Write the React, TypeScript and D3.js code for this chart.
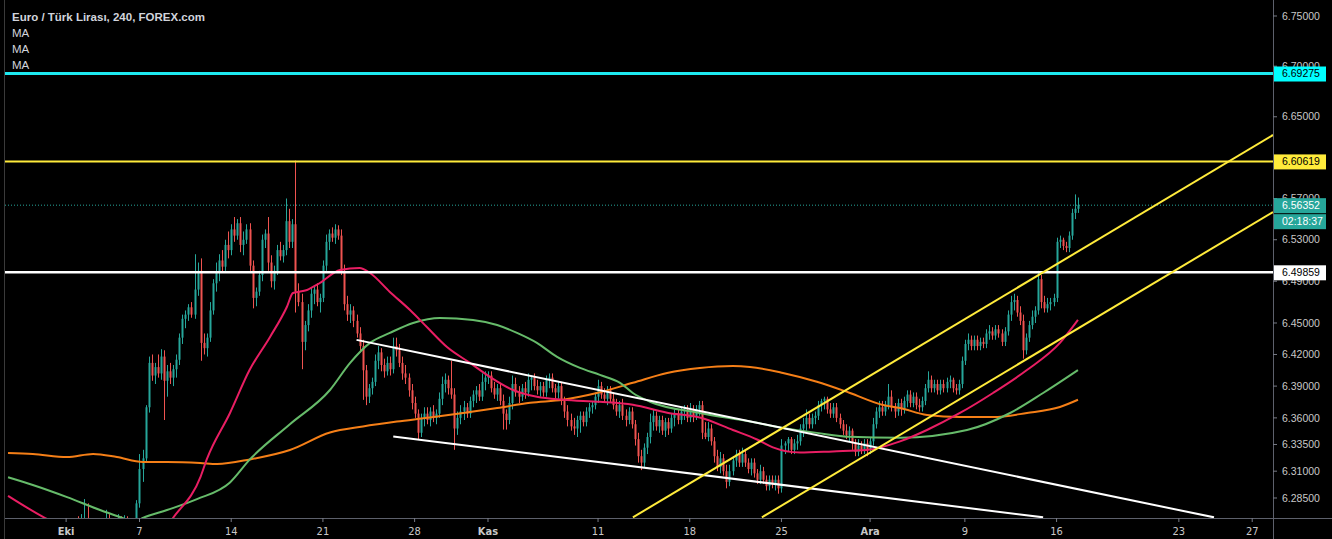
import React, { useEffect, useRef } from 'react';
import * as d3 from 'd3';

const W = 1332;
const H = 539;

// 4h bars: [open, high, low, close]
const bars: [number, number, number, number][] = [
  [6.262, 6.266, 6.250, 6.254], [6.254, 6.260, 6.246, 6.250], [6.250, 6.256, 6.240, 6.244], [6.244, 6.252, 6.238, 6.248],
  [6.248, 6.254, 6.236, 6.240], [6.240, 6.246, 6.228, 6.232], [6.232, 6.240, 6.226, 6.236], [6.236, 6.242, 6.228, 6.230],
  [6.230, 6.236, 6.222, 6.226], [6.226, 6.234, 6.220, 6.230], [6.230, 6.238, 6.224, 6.234], [6.234, 6.240, 6.226, 6.228],
  [6.228, 6.236, 6.220, 6.232], [6.232, 6.244, 6.228, 6.240], [6.240, 6.250, 6.234, 6.246], [6.246, 6.254, 6.238, 6.242],
  [6.242, 6.250, 6.236, 6.248], [6.248, 6.258, 6.242, 6.254], [6.254, 6.262, 6.246, 6.250], [6.250, 6.258, 6.240, 6.244],
  [6.244, 6.256, 6.238, 6.252], [6.252, 6.262, 6.246, 6.258], [6.258, 6.266, 6.250, 6.262], [6.262, 6.268, 6.252, 6.256],
  [6.256, 6.270, 6.250, 6.264], [6.264, 6.284, 6.258, 6.266], [6.266, 6.280, 6.252, 6.256], [6.256, 6.264, 6.246, 6.250],
  [6.250, 6.258, 6.242, 6.254], [6.254, 6.262, 6.246, 6.250], [6.250, 6.260, 6.244, 6.256], [6.256, 6.266, 6.250, 6.262],
  [6.262, 6.274, 6.256, 6.266], [6.266, 6.270, 6.252, 6.256], [6.256, 6.262, 6.244, 6.250], [6.250, 6.258, 6.242, 6.254],
  [6.254, 6.270, 6.250, 6.262], [6.262, 6.268, 6.252, 6.256], [6.256, 6.269, 6.250, 6.264], [6.264, 6.268, 6.250, 6.254],
  [6.254, 6.260, 6.246, 6.250], [6.250, 6.262, 6.244, 6.258], [6.258, 6.283, 6.254, 6.280],
  // 7 Oct
  [6.280, 6.326, 6.276, 6.312], [6.312, 6.330, 6.300, 6.322], [6.322, 6.372, 6.318, 6.370], [6.370, 6.418, 6.365, 6.412],
  [6.412, 6.420, 6.395, 6.400], [6.400, 6.412, 6.392, 6.408], [6.408, 6.420, 6.398, 6.402], [6.402, 6.425, 6.396, 6.418],
  [6.418, 6.424, 6.358, 6.395], [6.395, 6.410, 6.380, 6.404], [6.404, 6.412, 6.392, 6.398], [6.398, 6.410, 6.390, 6.406],
  [6.406, 6.420, 6.398, 6.415], [6.415, 6.440, 6.410, 6.436], [6.436, 6.458, 6.430, 6.454], [6.454, 6.462, 6.445, 6.458],
  [6.458, 6.468, 6.452, 6.465], [6.465, 6.470, 6.455, 6.458], [6.458, 6.516, 6.454, 6.482], [6.482, 6.508, 6.476, 6.500],
  [6.500, 6.512, 6.414, 6.431], [6.431, 6.440, 6.420, 6.426], [6.426, 6.440, 6.418, 6.436], [6.436, 6.470, 6.432, 6.462],
  [6.462, 6.492, 6.458, 6.488], [6.488, 6.508, 6.480, 6.498], [6.498, 6.516, 6.490, 6.510], [6.510, 6.520, 6.498, 6.504],
  [6.504, 6.530, 6.500, 6.525], [6.525, 6.538, 6.512, 6.520], [6.520, 6.545, 6.515, 6.540], [6.540, 6.552, 6.528, 6.534],
  [6.534, 6.550, 6.530, 6.546], [6.546, 6.552, 6.518, 6.525], [6.525, 6.538, 6.515, 6.530], [6.530, 6.545, 6.526, 6.540],
  [6.540, 6.546, 6.500, 6.505], [6.505, 6.510, 6.464, 6.474], [6.474, 6.484, 6.466, 6.480], [6.480, 6.500, 6.476, 6.496],
  [6.496, 6.535, 6.490, 6.530], [6.530, 6.540, 6.522, 6.536], [6.536, 6.552, 6.500, 6.508], [6.508, 6.515, 6.484, 6.490],
  [6.490, 6.505, 6.482, 6.500], [6.500, 6.525, 6.496, 6.520], [6.520, 6.528, 6.510, 6.514], [6.514, 6.525, 6.508, 6.520],
  [6.520, 6.570, 6.515, 6.548], [6.548, 6.560, 6.522, 6.528], [6.528, 6.550, 6.522, 6.545], [6.545, 6.607, 6.460, 6.480],
  [6.480, 6.488, 6.466, 6.470], [6.470, 6.478, 6.406, 6.432], [6.432, 6.452, 6.424, 6.448], [6.448, 6.468, 6.442, 6.462],
  [6.462, 6.484, 6.455, 6.478], [6.478, 6.486, 6.468, 6.482], [6.482, 6.488, 6.466, 6.470], [6.470, 6.478, 6.460, 6.474],
  [6.474, 6.510, 6.470, 6.505], [6.505, 6.535, 6.500, 6.528], [6.528, 6.540, 6.520, 6.536], [6.536, 6.542, 6.528, 6.532],
  [6.532, 6.545, 6.526, 6.540], [6.540, 6.544, 6.530, 6.534], [6.534, 6.540, 6.496, 6.500], [6.500, 6.506, 6.462, 6.468],
  [6.468, 6.476, 6.452, 6.458], [6.458, 6.468, 6.450, 6.462], [6.462, 6.466, 6.446, 6.452], [6.452, 6.458, 6.436, 6.440],
  [6.440, 6.446, 6.422, 6.428], [6.428, 6.434, 6.377, 6.405], [6.405, 6.410, 6.372, 6.380], [6.380, 6.392, 6.374, 6.388],
  [6.388, 6.398, 6.382, 6.394], [6.394, 6.420, 6.390, 6.414], [6.414, 6.428, 6.406, 6.422], [6.422, 6.426, 6.404, 6.410],
  [6.410, 6.416, 6.398, 6.404], [6.404, 6.418, 6.400, 6.412], [6.412, 6.418, 6.400, 6.406], [6.406, 6.436, 6.402, 6.428],
  [6.428, 6.436, 6.418, 6.424], [6.424, 6.430, 6.408, 6.412], [6.412, 6.418, 6.396, 6.402], [6.402, 6.410, 6.392, 6.398],
  [6.398, 6.402, 6.380, 6.386], [6.386, 6.392, 6.368, 6.374], [6.374, 6.380, 6.360, 6.364], [6.364, 6.368, 6.340, 6.346],
  [6.346, 6.364, 6.342, 6.360], [6.360, 6.370, 6.352, 6.364], [6.364, 6.370, 6.354, 6.358], [6.358, 6.370, 6.352, 6.366],
  [6.366, 6.372, 6.356, 6.360], [6.360, 6.368, 6.354, 6.364], [6.364, 6.384, 6.360, 6.378], [6.378, 6.399, 6.372, 6.392],
  [6.392, 6.402, 6.384, 6.396], [6.396, 6.400, 6.382, 6.388], [6.388, 6.414, 6.378, 6.382], [6.382, 6.388, 6.330, 6.350],
  [6.350, 6.366, 6.344, 6.360], [6.360, 6.372, 6.354, 6.366], [6.366, 6.376, 6.358, 6.370], [6.370, 6.374, 6.360, 6.364],
  [6.364, 6.380, 6.360, 6.376], [6.376, 6.386, 6.370, 6.382], [6.382, 6.390, 6.374, 6.386], [6.386, 6.392, 6.376, 6.380],
  [6.380, 6.402, 6.376, 6.394], [6.394, 6.404, 6.386, 6.398], [6.398, 6.404, 6.392, 6.400], [6.400, 6.404, 6.384, 6.388],
  [6.388, 6.394, 6.378, 6.382], [6.382, 6.392, 6.376, 6.388], [6.388, 6.392, 6.372, 6.376], [6.376, 6.382, 6.349, 6.364],
  [6.364, 6.368, 6.349, 6.358], [6.358, 6.380, 6.354, 6.374], [6.374, 6.400, 6.368, 6.392], [6.392, 6.398, 6.380, 6.384],
  [6.384, 6.390, 6.374, 6.380], [6.380, 6.392, 6.376, 6.388], [6.388, 6.394, 6.378, 6.384], [6.384, 6.402, 6.380, 6.396],
  [6.396, 6.400, 6.386, 6.398], [6.398, 6.402, 6.386, 6.390], [6.390, 6.396, 6.382, 6.386], [6.386, 6.394, 6.380, 6.390],
  [6.390, 6.394, 6.380, 6.384], [6.384, 6.400, 6.380, 6.396], [6.396, 6.402, 6.388, 6.398], [6.398, 6.402, 6.384, 6.388],
  [6.388, 6.392, 6.378, 6.384], [6.384, 6.394, 6.378, 6.390], [6.390, 6.394, 6.372, 6.376], [6.376, 6.380, 6.360, 6.366],
  [6.366, 6.372, 6.352, 6.358], [6.358, 6.364, 6.348, 6.352], [6.352, 6.360, 6.344, 6.350], [6.350, 6.362, 6.342, 6.358],
  [6.358, 6.366, 6.346, 6.362], [6.362, 6.366, 6.352, 6.356], [6.356, 6.370, 6.352, 6.366], [6.366, 6.374, 6.360, 6.370],
  [6.370, 6.376, 6.364, 6.372], [6.372, 6.384, 6.368, 6.380], [6.380, 6.396, 6.374, 6.390], [6.390, 6.394, 6.378, 6.382],
  [6.382, 6.388, 6.374, 6.378], [6.378, 6.390, 6.372, 6.386], [6.386, 6.390, 6.374, 6.378], [6.378, 6.384, 6.368, 6.372],
  [6.372, 6.378, 6.362, 6.366], [6.366, 6.376, 6.360, 6.372], [6.372, 6.378, 6.358, 6.362], [6.362, 6.368, 6.352, 6.358],
  [6.358, 6.370, 6.354, 6.366], [6.366, 6.370, 6.350, 6.354], [6.354, 6.358, 6.334, 6.340], [6.340, 6.346, 6.318, 6.324],
  [6.324, 6.330, 6.311, 6.318], [6.318, 6.336, 6.314, 6.332], [6.332, 6.346, 6.326, 6.342], [6.342, 6.364, 6.336, 6.356],
  [6.356, 6.368, 6.348, 6.362], [6.362, 6.366, 6.348, 6.352], [6.352, 6.362, 6.346, 6.358], [6.358, 6.362, 6.344, 6.348],
  [6.348, 6.360, 6.342, 6.356], [6.356, 6.360, 6.344, 6.350], [6.350, 6.364, 6.346, 6.360], [6.360, 6.368, 6.352, 6.364],
  [6.364, 6.368, 6.354, 6.358], [6.358, 6.370, 6.354, 6.366], [6.366, 6.372, 6.358, 6.368], [6.368, 6.372, 6.356, 6.360],
  [6.360, 6.374, 6.356, 6.368], [6.368, 6.372, 6.356, 6.362], [6.362, 6.372, 6.358, 6.368], [6.368, 6.376, 6.362, 6.372],
  [6.372, 6.376, 6.340, 6.346], [6.346, 6.356, 6.340, 6.342], [6.342, 6.356, 6.338, 6.350], [6.350, 6.354, 6.334, 6.338],
  [6.338, 6.342, 6.318, 6.324], [6.324, 6.330, 6.310, 6.314], [6.314, 6.328, 6.308, 6.322], [6.322, 6.326, 6.306, 6.310],
  [6.310, 6.316, 6.294, 6.300], [6.300, 6.316, 6.296, 6.310], [6.310, 6.324, 6.306, 6.320], [6.320, 6.330, 6.314, 6.326],
  [6.326, 6.330, 6.314, 6.318], [6.318, 6.332, 6.314, 6.326], [6.326, 6.330, 6.314, 6.318], [6.318, 6.322, 6.308, 6.312],
  [6.312, 6.322, 6.306, 6.318], [6.318, 6.322, 6.304, 6.308], [6.308, 6.312, 6.298, 6.302], [6.302, 6.316, 6.298, 6.310],
  [6.310, 6.314, 6.298, 6.302], [6.302, 6.306, 6.292, 6.296], [6.296, 6.306, 6.292, 6.302], [6.302, 6.306, 6.294, 6.298],
  [6.298, 6.306, 6.292, 6.302], [6.302, 6.306, 6.289, 6.294], [6.294, 6.340, 6.290, 6.334], [6.334, 6.338, 6.326, 6.336],
  [6.336, 6.342, 6.328, 6.340], [6.340, 6.342, 6.326, 6.330], [6.330, 6.340, 6.326, 6.336], [6.336, 6.344, 6.330, 6.338],
  [6.338, 6.354, 6.334, 6.350], [6.350, 6.360, 6.342, 6.354], [6.354, 6.368, 6.348, 6.360], [6.360, 6.364, 6.350, 6.354],
  [6.354, 6.364, 6.350, 6.360], [6.360, 6.366, 6.354, 6.362], [6.362, 6.376, 6.358, 6.372], [6.372, 6.378, 6.366, 6.376],
  [6.376, 6.380, 6.368, 6.378], [6.378, 6.380, 6.364, 6.368], [6.368, 6.374, 6.360, 6.364], [6.364, 6.374, 6.360, 6.370],
  [6.370, 6.374, 6.356, 6.360], [6.360, 6.364, 6.350, 6.354], [6.354, 6.358, 6.344, 6.348], [6.348, 6.354, 6.340, 6.344],
  [6.344, 6.352, 6.338, 6.348], [6.348, 6.350, 6.330, 6.336], [6.336, 6.340, 6.324, 6.328], [6.328, 6.340, 6.324, 6.334],
  [6.334, 6.338, 6.326, 6.330], [6.330, 6.340, 6.326, 6.336], [6.336, 6.340, 6.324, 6.330], [6.330, 6.342, 6.326, 6.338],
  [6.338, 6.360, 6.334, 6.354], [6.354, 6.370, 6.350, 6.366], [6.366, 6.376, 6.360, 6.370], [6.370, 6.376, 6.362, 6.366],
  [6.366, 6.376, 6.362, 6.372], [6.372, 6.392, 6.368, 6.380], [6.380, 6.386, 6.366, 6.370], [6.370, 6.374, 6.360, 6.366],
  [6.366, 6.378, 6.362, 6.374], [6.374, 6.378, 6.362, 6.368], [6.368, 6.380, 6.364, 6.376], [6.376, 6.386, 6.370, 6.382],
  [6.382, 6.386, 6.370, 6.374], [6.374, 6.384, 6.370, 6.380], [6.380, 6.384, 6.368, 6.372], [6.372, 6.378, 6.366, 6.370],
  [6.370, 6.380, 6.366, 6.376], [6.376, 6.392, 6.372, 6.388], [6.388, 6.404, 6.384, 6.396], [6.396, 6.400, 6.384, 6.388],
  [6.388, 6.396, 6.384, 6.392], [6.392, 6.396, 6.382, 6.386], [6.386, 6.396, 6.382, 6.392], [6.392, 6.396, 6.384, 6.388],
  [6.388, 6.398, 6.384, 6.394], [6.394, 6.400, 6.388, 6.396], [6.396, 6.398, 6.384, 6.388], [6.388, 6.392, 6.382, 6.386],
  [6.386, 6.396, 6.382, 6.392], [6.392, 6.418, 6.388, 6.414], [6.414, 6.434, 6.410, 6.430], [6.430, 6.440, 6.424, 6.434],
  [6.434, 6.438, 6.424, 6.428], [6.428, 6.438, 6.424, 6.434], [6.434, 6.438, 6.424, 6.428], [6.428, 6.436, 6.424, 6.432],
  [6.432, 6.436, 6.426, 6.430], [6.430, 6.444, 6.426, 6.440], [6.440, 6.448, 6.434, 6.442], [6.442, 6.446, 6.434, 6.438],
  [6.438, 6.448, 6.434, 6.444], [6.444, 6.448, 6.436, 6.440], [6.440, 6.444, 6.428, 6.432], [6.432, 6.446, 6.428, 6.442],
  [6.442, 6.462, 6.438, 6.458], [6.458, 6.476, 6.452, 6.470], [6.470, 6.478, 6.462, 6.472], [6.472, 6.476, 6.456, 6.460],
  [6.460, 6.466, 6.448, 6.452], [6.452, 6.458, 6.416, 6.424], [6.424, 6.440, 6.420, 6.436], [6.436, 6.452, 6.432, 6.448],
  [6.448, 6.462, 6.444, 6.456], [6.456, 6.466, 6.450, 6.462], [6.462, 6.500, 6.458, 6.492], [6.492, 6.496, 6.464, 6.470],
  [6.470, 6.476, 6.460, 6.464], [6.464, 6.474, 6.460, 6.468], [6.468, 6.474, 6.462, 6.470], [6.470, 6.478, 6.466, 6.474],
  [6.474, 6.532, 6.470, 6.528], [6.528, 6.534, 6.522, 6.530], [6.530, 6.532, 6.520, 6.524], [6.524, 6.528, 6.518, 6.522],
  [6.522, 6.538, 6.518, 6.534], [6.534, 6.560, 6.530, 6.556], [6.556, 6.574, 6.550, 6.560], [6.560, 6.571, 6.556, 6.56352],
];

// moving averages: [bar, price]
const maFast: [number, number][] = [
  [0, 6.287], [12, 6.2666], [24, 6.251], [36, 6.242], [46, 6.236], [54, 6.2666], [63, 6.305], [65, 6.321],
  [72.6, 6.3646], [79, 6.4052], [85.7, 6.4367], [91.2, 6.4653], [93.2, 6.4787], [97.8, 6.4816], [102, 6.4883],
  [108.6, 6.5008], [115, 6.5027], [118.4, 6.4979], [124.9, 6.4797], [131.5, 6.4624], [137, 6.4462], [143.6, 6.4271],
  [151.1, 6.412], [157.6, 6.3988], [165.2, 6.3863], [173, 6.3799], [181.5, 6.3771], [193.6, 6.3752], [204.4, 6.3724],
  [215.6, 6.3649], [226.3, 6.3603], [237.1, 6.3486], [245, 6.3397], [250.2, 6.3323], [259, 6.3275], [269.8, 6.3285],
  [280.9, 6.3298], [291.8, 6.3379], [300.6, 6.3486], [311.4, 6.3646], [322.2, 6.3835], [333.3, 6.4052], [344.1, 6.431],
  [350, 6.4529],
];
const maMid: [number, number][] = [
  [0, 6.3043], [8.1, 6.2971], [19.3, 6.2858], [30.1, 6.2738], [36.6, 6.2673], [41.5, 6.2626], [44.1, 6.2664],
  [52, 6.2738], [61.8, 6.2839], [72.6, 6.2995], [79.1, 6.321], [92.2, 6.354], [105.3, 6.3863], [111.9, 6.412],
  [118.4, 6.431], [124.9, 6.4405], [132.5, 6.45], [141.3, 6.4548], [152.1, 6.4529], [160, 6.4481], [166.5, 6.4405],
  [173, 6.431], [179.6, 6.4177], [187.1, 6.4072], [193.6, 6.4006], [200.2, 6.3931], [204.4, 6.3835], [210, 6.3752],
  [226.3, 6.3646], [242.7, 6.3565], [253.5, 6.3505], [264.6, 6.3459], [275.4, 6.3422], [291.8, 6.3413],
  [313.7, 6.3486], [327.8, 6.3646], [338.6, 6.3835], [350, 6.4052],
];
const maSlow: [number, number][] = [
  [0, 6.327], [8.1, 6.3261], [19.3, 6.3232], [27.8, 6.3261], [35.6, 6.3232], [44.1, 6.3186], [52, 6.3186],
  [62.8, 6.3177], [68.4, 6.3167], [79.1, 6.321], [92.2, 6.3298], [105.3, 6.3462], [116.1, 6.3519], [127.2, 6.3565],
  [138, 6.3603], [148.8, 6.3646], [160, 6.3693], [170.8, 6.3743], [181.5, 6.3771], [192.6, 6.3835], [204.4, 6.3931],
  [215.6, 6.4024], [226.3, 6.4072], [237.1, 6.4091], [242.7, 6.4082], [253.5, 6.4024], [264.6, 6.3941],
  [275.4, 6.3835], [286.2, 6.3722], [291.8, 6.3693], [300.6, 6.3627], [311.4, 6.3608], [322.2, 6.3608],
  [333.3, 6.3646], [344.1, 6.3703], [350, 6.3771],
];

const dateTicks: [number, string, boolean][] = [
  [19, 'Eki', true], [43, '7', false], [73, '14', false], [103, '21', false], [133, '28', false],
  [157, 'Kas', true], [193, '11', false], [223, '18', false], [253, '25', false], [282, 'Ara', true],
  [313, '9', false], [343, '16', false], [383, '23', false], [407, '27', false],
];
const priceTicks = [6.75, 6.70, 6.65, 6.57, 6.53, 6.49, 6.45, 6.42, 6.39, 6.36, 6.335, 6.31, 6.285];

const levels = [
  { price: 6.69275, color: '#1de9f0', box: '#00ffff', width: 3 },
  { price: 6.60619, color: '#ffeb3b', box: '#ffeb3b', width: 2 },
  { price: 6.49859, color: '#ffffff', box: '#ffffff', width: 2.5 },
];
const lastPrice = 6.56352;
const countdown = '02:18:37';

// trend lines: [bar, price] -> [bar, price]
const trendLines: { from: [number, number]; to: [number, number]; color: string }[] = [
  { from: [114, 6.4339], to: [394.5, 6.267], color: '#ffffff' },
  { from: [126, 6.3425], to: [338.6, 6.267], color: '#ffffff' },
  { from: [204.4, 6.267], to: [413.8, 6.6321], color: '#ffeb3b' },
  { from: [246.6, 6.267], to: [413.8, 6.5569], color: '#ffeb3b' },
];

const UP = '#26a69a';
const DOWN = '#ef5350';

export default function App() {
  const ref = useRef<SVGSVGElement>(null);

  useEffect(() => {
    const svg = d3.select(ref.current);
    svg.selectAll('*').remove();

    const left = 5, right = 1273, bottom = 518;
    const x = d3.scaleLinear().domain([0, 413.8]).range([8.05, right]);
    const y = d3.scaleLog().domain([6.2664, 6.766]).range([bottom, 0]);

    svg.append('rect').attr('width', W).attr('height', H).attr('fill', '#000');

    svg.append('clipPath').attr('id', 'plot')
      .append('rect').attr('x', left).attr('y', 0).attr('width', right - left).attr('height', bottom);

    const g = svg.append('g').attr('clip-path', 'url(#plot)');

    // last price dotted line
    g.append('line')
      .attr('x1', left).attr('x2', right)
      .attr('y1', y(lastPrice)).attr('y2', y(lastPrice))
      .attr('stroke', UP).attr('stroke-width', 1).attr('stroke-dasharray', '1,2');

    // candles
    const c = g.append('g');
    bars.forEach((b, i) => {
      const [o, h, l, cl] = b;
      const col = cl >= o ? UP : DOWN;
      const cx = Math.round(x(i)) + 0.5;
      c.append('line').attr('x1', cx).attr('x2', cx).attr('y1', y(h)).attr('y2', y(l))
        .attr('stroke', col).attr('stroke-width', 1);
      const top = y(Math.max(o, cl));
      const hgt = Math.max(1, Math.abs(y(o) - y(cl)));
      c.append('rect').attr('x', cx - 1).attr('y', top).attr('width', 2).attr('height', hgt).attr('fill', col);
    });

    // moving averages
    const line = d3.line<[number, number]>()
      .x(d => x(d[0])).y(d => y(d[1])).curve(d3.curveMonotoneX);
    [[maSlow, '#f57f17'], [maMid, '#66bb6a'], [maFast, '#e91e63']].forEach(([data, col]) => {
      g.append('path').attr('d', line(data as [number, number][]))
        .attr('fill', 'none').attr('stroke', col as string).attr('stroke-width', 2);
    });

    // horizontal levels
    levels.forEach(lv => {
      g.append('line').attr('x1', left).attr('x2', right)
        .attr('y1', y(lv.price)).attr('y2', y(lv.price))
        .attr('stroke', lv.color).attr('stroke-width', lv.width);
    });

    // trend lines
    trendLines.forEach(t => {
      g.append('line')
        .attr('x1', x(t.from[0])).attr('y1', y(t.from[1]))
        .attr('x2', x(t.to[0])).attr('y2', y(t.to[1]))
        .attr('stroke', t.color).attr('stroke-width', 2);
    });

    // axes frame
    svg.append('line').attr('x1', left).attr('x2', W).attr('y1', bottom + 0.5).attr('y2', bottom + 0.5)
      .attr('stroke', '#5d606b');
    svg.append('line').attr('x1', right + 0.5).attr('x2', right + 0.5).attr('y1', 0).attr('y2', H)
      .attr('stroke', '#5d606b');
    svg.append('line').attr('x1', left - 0.5).attr('x2', left - 0.5).attr('y1', 0).attr('y2', H)
      .attr('stroke', '#3a3a3a');

    const font = "'Liberation Sans', Arial, sans-serif";

    // price axis
    priceTicks.forEach(p => {
      svg.append('line').attr('x1', right).attr('x2', right + 4).attr('y1', y(p)).attr('y2', y(p))
        .attr('stroke', '#787b86');
      svg.append('text').attr('x', 1282).attr('y', y(p)).attr('dy', '0.35em')
        .attr('fill', '#c8c8c8').attr('font-size', 10.5).attr('font-family', font)
        .text(p.toFixed(5));
    });

    // date axis
    dateTicks.forEach(([i, label, bold]) => {
      svg.append('line').attr('x1', x(i)).attr('x2', x(i)).attr('y1', bottom).attr('y2', bottom + 4)
        .attr('stroke', '#787b86');
      svg.append('text').attr('x', x(i)).attr('y', 535).attr('text-anchor', 'middle')
        .attr('fill', '#c8c8c8').attr('font-size', 11).attr('font-weight', bold ? 'bold' : 'normal')
        .attr('font-family', "'Liberation Sans Narrow', 'DejaVu Sans Condensed', Arial, sans-serif")
        .text(label);
    });

    // price labels on axis
    const tag = (p: number, fill: string, txt: string, text: string, dy = 0) => {
      const cy = y(p) + dy;
      svg.append('rect').attr('x', right + 1).attr('y', cy - 7).attr('width', 52).attr('height', 15)
        .attr('fill', fill);
      svg.append('text').attr('x', 1282).attr('y', cy).attr('dy', '0.35em')
        .attr('fill', txt).attr('font-size', 10.5).attr('font-family', font).text(text);
    };
    levels.forEach(lv => tag(lv.price, lv.box, '#000', lv.price.toFixed(5)));
    tag(lastPrice, UP, '#fff', lastPrice.toFixed(5));
    tag(lastPrice, UP, '#fff', countdown, 16);

    // legend
    const leg = svg.append('g').attr('font-family', font).attr('fill', '#d1d4dc');
    leg.append('text').attr('x', 12).attr('y', 21).attr('font-size', 11.5).attr('font-weight', 'bold')
      .text('Euro / Türk Lirası, 240, FOREX.com');
    ['MA', 'MA', 'MA'].forEach((t, k) => {
      leg.append('text').attr('x', 12).attr('y', 37 + k * 16).attr('font-size', 11.5).text(t);
    });
  }, []);

  return (
    <div style={{ position: 'fixed', left: 0, top: 0 }}>
      <svg ref={ref} width={W} height={H} style={{ display: 'block' }} />
    </div>
  );
}
